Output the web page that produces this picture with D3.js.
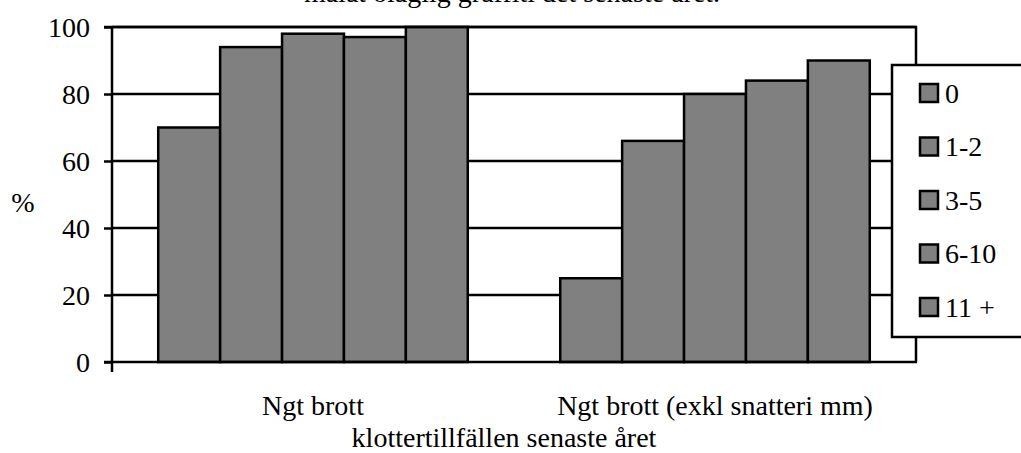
<!DOCTYPE html>
<html lang="sv">
	<head>
		<meta charset="utf-8">
		<title>Klottertillfällen senaste året</title>
		<script type="text/javascript" src="https://cdn.jsdelivr.net/npm/d3@7/dist/d3.min.js"></script>
		<style type="text/css">
			body { margin: 0; background: #fff; }
			svg text { font-family: "Liberation Serif", "Times New Roman", Times, "DejaVu Serif", serif; fill: #000; }
		</style>
	</head>
	<body>
		<div id="chart"></div>
		<script type="text/javascript">

			//Data
			var categories = ["Ngt brott", "Ngt brott (exkl snatteri mm)"];
			var series = ["0", "1-2", "3-5", "6-10", "11 +"];
			var valuesNgtBrott = [70, 94, 98, 97, 100];
			var valuesExklSnatteri = [25, 66, 80, 84, 90];
			var yTicks = [0, 20, 40, 60, 80, 100];

			var titleText = "målat olaglig graffiti det senaste året.";
			var yLabel = "%";
			var xLabel = "klottertillfällen senaste året";

			var table = [valuesNgtBrott, valuesExklSnatteri];

			//Width and height
			var w = 1021;
			var h = 453;
			var plot = {left: 112, right: 916, top: 27, bottom: 362};
			var groupInset = 0.115;
			var fontSize = 28;
			var serif = "Liberation Serif, Times New Roman, Times, serif";
			var lw = 2.5;
			var barFill = "#808080";

			var svg = d3.select("#chart")
						.append("svg")
						.attr("width", w)
						.attr("height", h)
						.attr("font-family", serif);

			//Scales
			var x0 = d3.scaleBand()
						.domain(categories)
						.range([plot.left, plot.right]);

			var bw = x0.bandwidth();
			var x1 = d3.scaleBand()
						.domain(series)
						.range([bw * groupInset, bw * (1 - groupInset)]);

			var y = d3.scaleLinear()
						.domain([0, 100])
						.range([plot.bottom, plot.top]);

			//Gridlines (behind bars)
			svg.append("g")
			   .selectAll("line")
			   .data(yTicks.filter(function(d){ return d > 0; }))
			   .enter()
			   .append("line")
			   .attr("x1", plot.left)
			   .attr("x2", plot.right)
			   .attr("y1", function(d){ return y(d); })
			   .attr("y2", function(d){ return y(d); })
			   .attr("stroke", "#000")
			   .attr("stroke-width", lw);

			//Right border of plot area
			svg.append("line")
			   .attr("x1", plot.right)
			   .attr("x2", plot.right)
			   .attr("y1", plot.top - 1)
			   .attr("y2", plot.bottom)
			   .attr("stroke", "#000")
			   .attr("stroke-width", lw);

			//Bars
			var groups = svg.selectAll(".group")
							.data(table)
							.enter()
							.append("g")
							.attr("class", "group")
							.attr("transform", function(d, i){
								return "translate(" + x0(categories[i]) + ",0)";
							});

			groups.selectAll("rect")
				  .data(function(d){
					  return d.map(function(v, j){ return {key: series[j], value: v}; });
				  })
				  .enter()
				  .append("rect")
				  .attr("x", function(d){ return x1(d.key); })
				  .attr("y", function(d){ return y(d.value); })
				  .attr("width", x1.bandwidth())
				  .attr("height", function(d){ return y(0) - y(d.value); })
				  .attr("fill", barFill)
				  .attr("stroke", "#000")
				  .attr("stroke-width", lw);

			//Y axis
			var yAxis = d3.axisLeft(y)
						  .tickValues(yTicks)
						  .tickSize(8)
						  .tickPadding(14);

			var yg = svg.append("g")
						.attr("transform", "translate(" + plot.left + ",0)")
						.call(yAxis)
						.attr("font-family", serif);

			yg.select(".domain").remove();
			yg.selectAll("line").attr("stroke", "#000").attr("stroke-width", lw);
			yg.selectAll("text")
			  .attr("font-size", fontSize)
			  .attr("dy", "0.34em");

			svg.append("line")
			   .attr("x1", plot.left)
			   .attr("x2", plot.left)
			   .attr("y1", plot.top - 1)
			   .attr("y2", plot.bottom + 10)
			   .attr("stroke", "#000")
			   .attr("stroke-width", lw);

			//X axis line + top line
			svg.append("line")
			   .attr("x1", plot.left - 8)
			   .attr("x2", plot.right + 1)
			   .attr("y1", y(0))
			   .attr("y2", y(0))
			   .attr("stroke", "#000")
			   .attr("stroke-width", lw);

			svg.append("line")
			   .attr("x1", plot.left - 8)
			   .attr("x2", plot.right + 1)
			   .attr("y1", y(100))
			   .attr("y2", y(100))
			   .attr("stroke", "#000")
			   .attr("stroke-width", lw);

			//Category labels
			svg.selectAll(".catLabel")
			   .data(categories)
			   .enter()
			   .append("text")
			   .attr("class", "catLabel")
			   .attr("x", function(d){ return x0(d) + bw / 2; })
			   .attr("y", 415)
			   .attr("text-anchor", "middle")
			   .attr("font-size", fontSize)
			   .text(function(d){ return d; });

			//Axis titles
			svg.append("text")
			   .attr("x", 504)
			   .attr("y", 447)
			   .attr("text-anchor", "middle")
			   .attr("font-size", fontSize)
			   .text(xLabel);

			svg.append("text")
			   .attr("x", 23)
			   .attr("y", 212)
			   .attr("text-anchor", "middle")
			   .attr("font-size", fontSize)
			   .text(yLabel);

			//Title, second line only (the rest sits above the picture)
			svg.append("text")
			   .attr("x", 512)
			   .attr("y", 2)
			   .attr("text-anchor", "middle")
			   .attr("font-size", fontSize)
			   .text(titleText);

			//Legend
			var legend = svg.append("g")
							.attr("transform", "translate(892,65)");

			legend.append("rect")
				  .attr("x", 0)
				  .attr("y", 0)
				  .attr("width", 160)
				  .attr("height", 272)
				  .attr("fill", "#fff")
				  .attr("stroke", "#000")
				  .attr("stroke-width", lw);

			var items = legend.selectAll(".item")
							  .data(series)
							  .enter()
							  .append("g")
							  .attr("class", "item")
							  .attr("transform", function(d, i){
								  return "translate(0," + (28 + i * 53.5) + ")";
							  });

			items.append("rect")
				 .attr("x", 28)
				 .attr("y", -9)
				 .attr("width", 18)
				 .attr("height", 18)
				 .attr("fill", barFill)
				 .attr("stroke", "#000")
				 .attr("stroke-width", lw);

			items.append("text")
				 .attr("x", 53)
				 .attr("y", 0)
				 .attr("dy", "0.34em")
				 .attr("font-size", fontSize)
				 .text(function(d){ return d; });

		</script>
	</body>
</html>
